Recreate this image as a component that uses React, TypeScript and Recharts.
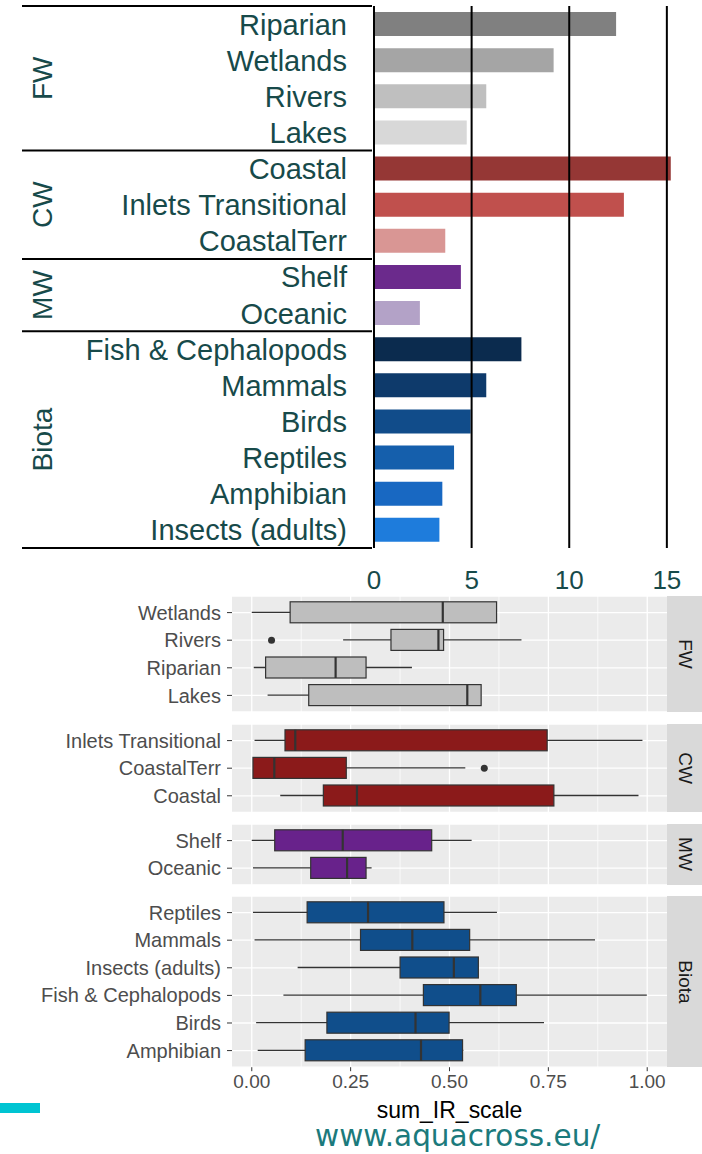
import React from "react"
import {
  BarChart,
  Bar,
  Cell,
  XAxis,
  YAxis,
  ReferenceLine,
  ReferenceDot,
  ComposedChart,
  CartesianGrid,
} from "recharts"

// top chart: total impact per habitat / biota group
const habitats = [
  "Riparian",
  "Wetlands",
  "Rivers",
  "Lakes",
  "Coastal",
  "Inlets Transitional",
  "CoastalTerr",
  "Shelf",
  "Oceanic",
  "Fish & Cephalopods",
  "Mammals",
  "Birds",
  "Reptiles",
  "Amphibian",
  "Insects (adults)",
]
const habitatGroups = [
  "FW", "FW", "FW", "FW",
  "CW", "CW", "CW",
  "MW", "MW",
  "Biota", "Biota", "Biota", "Biota", "Biota", "Biota",
]
const totals = [12.4, 9.2, 5.75, 4.75, 15.2, 12.8, 3.65, 4.45, 2.35, 7.55, 5.75, 4.95, 4.1, 3.5, 3.35]
const barColors = [
  "#808080", "#a5a5a5", "#bfbfbf", "#d8d8d8",
  "#953735", "#c0504d", "#d99694",
  "#6b2a8c", "#b3a2c7",
  "#0b2b4e", "#0e3a6b", "#114c8a", "#155fac", "#1868c2", "#1e7cdc",
]
const topTicks = [0, 5, 10, 15]
const topLines = [5, 10, 15]

// bottom chart: boxplots of sum_IR_scale per facet
const fwNames = ["Wetlands", "Rivers", "Riparian", "Lakes"]
const fwLow = [0.0, 0.231, 0.005, 0.04]
const fwQ1 = [0.097, 0.352, 0.035, 0.144]
const fwMed = [0.483, 0.472, 0.212, 0.545]
const fwQ3 = [0.619, 0.485, 0.289, 0.58]
const fwHigh = [0.619, 0.682, 0.405, 0.58]

const cwNames = ["Inlets Transitional", "CoastalTerr", "Coastal"]
const cwLow = [0.007, 0.003, 0.072]
const cwQ1 = [0.084, 0.003, 0.181]
const cwMed = [0.11, 0.057, 0.266]
const cwQ3 = [0.747, 0.239, 0.764]
const cwHigh = [0.988, 0.54, 0.978]

const mwNames = ["Shelf", "Oceanic"]
const mwLow = [0.0, 0.003]
const mwQ1 = [0.058, 0.149]
const mwMed = [0.23, 0.241]
const mwQ3 = [0.455, 0.289]
const mwHigh = [0.556, 0.303]

const biotaNames = ["Reptiles", "Mammals", "Insects (adults)", "Fish & Cephalopods", "Birds", "Amphibian"]
const biotaLow = [0.003, 0.007, 0.116, 0.08, 0.011, 0.015]
const biotaQ1 = [0.14, 0.275, 0.375, 0.434, 0.19, 0.135]
const biotaMed = [0.294, 0.406, 0.511, 0.578, 0.414, 0.428]
const biotaQ3 = [0.486, 0.551, 0.573, 0.669, 0.499, 0.533]
const biotaHigh = [0.62, 0.868, 0.573, 0.999, 0.739, 0.535]

const fwOutliers = [{ name: "Rivers", value: 0.05 }]
const cwOutliers = [{ name: "CoastalTerr", value: 0.588 }]

const boxTicks = [0, 0.25, 0.5, 0.75, 1]
const minorTicks = [0.125, 0.375, 0.625, 0.875]

const TEAL = "#174a4a"
const FONT = "'Liberation Sans', Arial, sans-serif"

const TOP_H = 600
const TOP_MARGIN_TOP = 6
const TOP_AXIS_H = 52
const rowStep = (TOP_H - TOP_MARGIN_TOP - TOP_AXIS_H) / habitats.length

const topData = habitats.map((name, i) => ({ name, value: totals[i] }))

function HabitatTick(props: any) {
  const { x, y, payload } = props
  const i = habitats.indexOf(payload.value)
  const g = habitatGroups[i]
  const first = i === 0 || habitatGroups[i - 1] !== g
  const last = i === habitats.length - 1
  const count = habitatGroups.filter((v) => v === g).length
  const groupMid = y - rowStep / 2 + (count * rowStep) / 2
  return (
    <g>
      <text x={x - 25} y={y} dy="0.36em" textAnchor="end" fontSize={29} fill={TEAL} fontFamily={FONT}>
        {payload.value}
      </text>
      {first && (
        <line x1={22} x2={x} y1={y - rowStep / 2} y2={y - rowStep / 2} stroke="#000" strokeWidth={2} />
      )}
      {last && (
        <line x1={22} x2={x} y1={y + rowStep / 2} y2={y + rowStep / 2} stroke="#000" strokeWidth={2} />
      )}
      {first && (
        <text
          transform={`translate(42, ${groupMid}) rotate(-90)`}
          dy="0.36em"
          textAnchor="middle"
          fontSize={28}
          fill={TEAL}
          fontFamily={FONT}
        >
          {g}
        </text>
      )}
    </g>
  )
}

function TotalsChart() {
  return (
    <BarChart
      layout="vertical"
      width={702}
      height={TOP_H}
      data={topData}
      margin={{ top: TOP_MARGIN_TOP, right: 0, bottom: 0, left: 0 }}
    >
      <XAxis
        type="number"
        domain={[0, 16.8]}
        ticks={topTicks}
        axisLine={false}
        tickLine={false}
        tickSize={0}
        tickMargin={23}
        height={TOP_AXIS_H}
        tick={{ fontSize: 26, fill: TEAL, fontFamily: FONT }}
      />
      <YAxis
        type="category"
        dataKey="name"
        width={374}
        tickSize={0}
        tickLine={false}
        axisLine={{ stroke: "#000", strokeWidth: 2 }}
        tick={<HabitatTick />}
        interval={0}
      />
      {topLines.map((v) => (
        <ReferenceLine key={v} x={v} stroke="#000" strokeWidth={2} />
      ))}
      <Bar dataKey="value" barSize={24} isAnimationActive={false}>
        {topData.map((d, i) => (
          <Cell key={d.name} fill={barColors[i]} />
        ))}
      </Bar>
    </BarChart>
  )
}

function BoxShape(props: any) {
  const { x, y, width, height, payload, fill } = props
  const [lo, hi] = payload.range
  const px = (v: number) => x + ((v - lo) / (hi - lo)) * width
  const cy = y + height / 2
  const b1 = Math.min(px(payload.q1), px(payload.q3))
  const b2 = Math.max(px(payload.q1), px(payload.q3))
  const m = px(payload.median)
  return (
    <g>
      <line x1={x} x2={x + width} y1={cy} y2={cy} stroke="#333" strokeWidth={1.3} />
      <rect x={b1} y={y} width={b2 - b1} height={height} fill={fill} stroke="#333" strokeWidth={1.2} />
      <line x1={m} x2={m} y1={y} y2={y + height} stroke="#333" strokeWidth={2.2} />
    </g>
  )
}

function makeRows(names: string[], low: number[], q1: number[], med: number[], q3: number[], high: number[]) {
  return names.map((name, i) => ({
    name,
    range: [low[i], high[i]],
    q1: q1[i],
    median: med[i],
    q3: q3[i],
  }))
}

const ROW = 27.6
const PAD = 2.8

function Facet({
  label,
  rows,
  outliers,
  fill,
  top,
  showAxis,
}: {
  label: string
  rows: any[]
  outliers: { name: string; value: number }[]
  fill: string
  top: number
  showAxis?: boolean
}) {
  const panelH = rows.length * ROW + PAD * 2
  const axisH = showAxis ? 60 : 0
  return (
    <div style={{ position: "absolute", left: 0, top, width: 702, height: panelH + axisH }}>
      <ComposedChart
        layout="vertical"
        width={667}
        height={panelH + axisH}
        data={rows}
        margin={{ top: 0, right: 0, bottom: 0, left: 0 }}
      >
        <CartesianGrid
          fill="#ebebeb"
          stroke="#fff"
          strokeWidth={0.7}
          horizontal={false}
          verticalValues={minorTicks}
        />
        <CartesianGrid stroke="#fff" strokeWidth={1.3} verticalValues={boxTicks} />
        <XAxis
          type="number"
          domain={[-0.05, 1.05]}
          ticks={boxTicks}
          hide={!showAxis}
          height={axisH}
          axisLine={false}
          tickSize={4}
          tickMargin={3}
          tickLine={{ stroke: "#333" }}
          tickFormatter={(v: number) => v.toFixed(2)}
          tick={{ fontSize: 19, fill: "#4d4d4d", fontFamily: FONT }}
          label={
            showAxis
              ? { value: "sum_IR_scale", position: "insideBottom", offset: 9, fontSize: 23, fill: "#000", fontFamily: FONT }
              : undefined
          }
        />
        <YAxis
          type="category"
          dataKey="name"
          width={232}
          padding={{ top: PAD, bottom: PAD }}
          axisLine={false}
          tickSize={5}
          tickMargin={6}
          tickLine={{ stroke: "#333" }}
          interval={0}
          tick={{ fontSize: 20, fill: "#4d4d4d", fontFamily: FONT }}
        />
        <Bar dataKey="range" fill={fill} barSize={21} shape={<BoxShape />} isAnimationActive={false} />
        {outliers.map((o) => (
          <ReferenceDot key={o.name} x={o.value} y={o.name} r={3.5} fill="#333" stroke="none" />
        ))}
      </ComposedChart>
      <div
        style={{
          position: "absolute",
          left: 667,
          top: 0,
          width: 35,
          height: panelH,
          background: "#d9d9d9",
          display: "flex",
          alignItems: "center",
          justifyContent: "center",
        }}
      >
        <div
          style={{
            transform: "rotate(90deg)",
            fontFamily: FONT,
            fontSize: 19,
            color: "#1a1a1a",
            whiteSpace: "nowrap",
          }}
        >
          {label}
        </div>
      </div>
    </div>
  )
}

export default function App() {
  return (
    <div style={{ position: "absolute", left: 0, top: 0, width: 702, height: 1154, background: "#fff" }}>
      <TotalsChart />
      <Facet label="FW" rows={makeRows(fwNames, fwLow, fwQ1, fwMed, fwQ3, fwHigh)} outliers={fwOutliers} fill="#bebebe" top={596} />
      <Facet label="CW" rows={makeRows(cwNames, cwLow, cwQ1, cwMed, cwQ3, cwHigh)} outliers={cwOutliers} fill="#8b1a1a" top={724} />
      <Facet label="MW" rows={makeRows(mwNames, mwLow, mwQ1, mwMed, mwQ3, mwHigh)} outliers={[]} fill="#68228b" top={824} />
      <Facet
        label="Biota"
        rows={makeRows(biotaNames, biotaLow, biotaQ1, biotaMed, biotaQ3, biotaHigh)}
        outliers={[]}
        fill="#104e8b"
        top={896}
        showAxis
      />
      <div style={{ position: "absolute", left: 0, top: 1103, width: 40, height: 10, background: "#00c4d2" }} />
      <div
        style={{
          position: "absolute",
          left: 315,
          top: 1125,
          fontFamily: "'DejaVu Sans', sans-serif",
          fontSize: 29.5,
          lineHeight: "22px",
          color: "#1b7a7c",
          whiteSpace: "nowrap",
        }}
      >
        www.aquacross.eu/
      </div>
    </div>
  )
}
